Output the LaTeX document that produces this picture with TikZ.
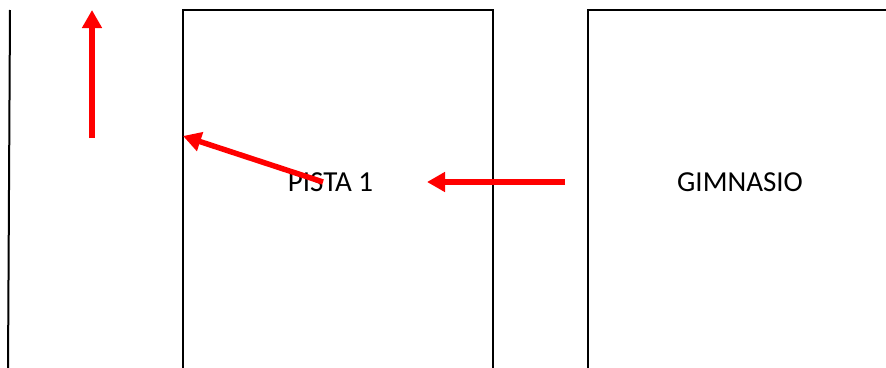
\documentclass[tikz,border=0pt]{standalone}
\usepackage{fontspec}
\setmainfont{Carlito}
\usetikzlibrary{arrows.meta}
\begin{document}
\begin{tikzpicture}[x=1pt,y=1pt,
  wall/.style={draw=black,line width=2pt},
  redarrow/.style={draw=red,line width=5.5pt,-{Triangle[width=19pt,length=18pt]}},
  lbl/.style={font=\fontsize{29}{33}\selectfont,anchor=base,inner sep=0pt}]
\useasboundingbox (0,0) rectangle (886,-367);
% walls
\draw[wall] (10,-10) -- (8,-370);
\draw[wall] (183,-370) -- (183,-10) -- (493,-10) -- (493,-370);
\draw[wall] (588,-370) -- (588,-10) -- (890,-10);
% labels
\node[lbl] (pista) at (330.5,-191) {PISTA 1};
\node[lbl] (gim) at (740,-191) {GIMNASIO};
% arrow points
\coordinate (a1s) at (92,-138);
\coordinate (a1e) at (92,-10);
\coordinate (a2s) at (323,-182);
\coordinate (a2e) at (183,-136);
\coordinate (a3s) at (565,-182);
\coordinate (a3e) at (427,-182);
\draw[redarrow] (a1s) -- (a1e);
\draw[redarrow] (a2s) -- (a2e);
\draw[redarrow] (a3s) -- (a3e);
\end{tikzpicture}
\end{document}
